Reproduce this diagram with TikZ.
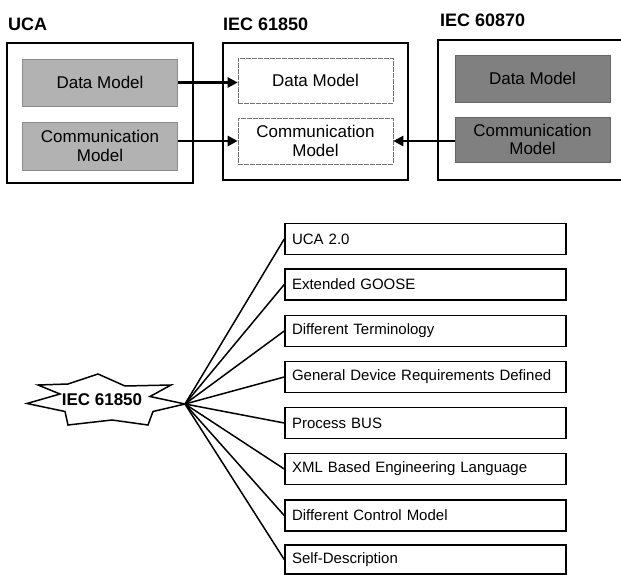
\documentclass[tikz,border=0pt]{standalone}
\usepackage{fontspec}
\setmainfont{Liberation Sans}
\usetikzlibrary{arrows.meta}
\begin{document}
\begin{tikzpicture}[x=1pt,y=-1pt,
  outerbox/.style={draw=black, line width=1.8pt, inner sep=0pt},
  title/.style={anchor=west, inner sep=0pt, font=\bfseries\fontsize{18}{20}\selectfont},
  mbox/.style={inner sep=0pt, align=center, minimum width=155pt, font=\fontsize{17}{18.5}\selectfont},
  ucafill/.style={mbox, fill=black!30, draw=black!45, line width=0.5pt},
  darkfill/.style={mbox, fill=black!50, draw=black!60, line width=0.5pt},
  whitebox/.style={mbox, fill=white, draw=black!55, line width=0.6pt, dash pattern=on 5pt off 1pt},
  arr/.style={line width=2.4pt, -{Triangle[length=10pt,width=10pt]}},
  item/.style={draw=black, line width=1.5pt, inner xsep=7pt, inner ysep=0pt,
    text width=267pt, align=left, minimum height=31pt, font=\fontsize{15}{17}\selectfont},
  fan/.style={line width=1.5pt}
]
\useasboundingbox (0,0) rectangle (621,575);
\clip (0,0) rectangle (621,575);

% titles
\node[title] (tuca) at (8,24) {UCA};
\node[title] (t61850) at (223,24) {IEC 61850};
\node[title] (t60870) at (440,20) {IEC 60870};

% outer boxes
\node[outerbox, minimum width=186pt, minimum height=140pt] (ouca) at (100,113) {};
\node[outerbox, minimum width=185pt, minimum height=137pt] (o61850) at (315.5,111.5) {};
\coordinate (o60870tr) at (625,40);
\coordinate (o60870br) at (625,180);
\draw[line width=1.8pt] (o60870tr) -- (438,40) -- (438,180) -- (o60870br);

% inner boxes
\node[ucafill, minimum height=47pt] (ud) at (100,82.5) {Data Model};
\node[ucafill, minimum height=48pt] (uc) at (100,146) {Communication\\Model};
\node[whitebox, minimum height=45pt] (id) at (315.5,80.5) {Data Model};
\node[whitebox, minimum height=46pt] (ic) at (315.5,141) {Communication\\Model};
\node[darkfill, minimum height=47pt] (ed) at (532.5,78.5) {Data Model};
\node[darkfill, minimum height=45pt] (ec) at (532.5,139.5) {Communication\\Model};

% arrows
\draw[arr] (ud.east) -- (ud.east -| id.west);
\draw[arr] (ic.west -| uc.east) -- (ic.west);
\draw[arr] (ec.west |- ic.east) -- (ic.east);

% star
\coordinate (hub) at (185,404);
\draw[line width=1.5pt, fill=white, line join=miter] (38,385) -- (68,384) -- (98,374) -- (125,386)
  -- (171,385) -- (150,396.5) -- (hub) -- (153,411.5) -- (148,425) -- (112,420)
  -- (68,425) -- (65,411.5) -- (27,403.5) -- (60,394) -- cycle;
\node[inner sep=0pt, font=\bfseries\fontsize{17}{19}\selectfont] (star) at (102,400) {IEC 61850};

% items
\node[item] (b1) at (425.5,239) {UCA 2.0};
\node[item] (b2) at (425.5,284.5) {Extended GOOSE};
\node[item] (b3) at (425.5,331) {Different Terminology};
\node[item] (b4) at (425.5,377) {General Device Requirements Defined};
\node[item] (b5) at (425.5,423) {Process BUS};
\node[item] (b6) at (425.5,469) {XML Based Engineering Language};
\node[item] (b7) at (425.5,515.5) {Different Control Model};
\node[item, minimum height=29pt] (b8) at (425.5,559.5) {Self-Description};

\foreach \b in {b1,b2,b3,b4,b5,b6,b7,b8}
  \draw[fan] (hub) -- (\b.west);
\end{tikzpicture}
\end{document}
